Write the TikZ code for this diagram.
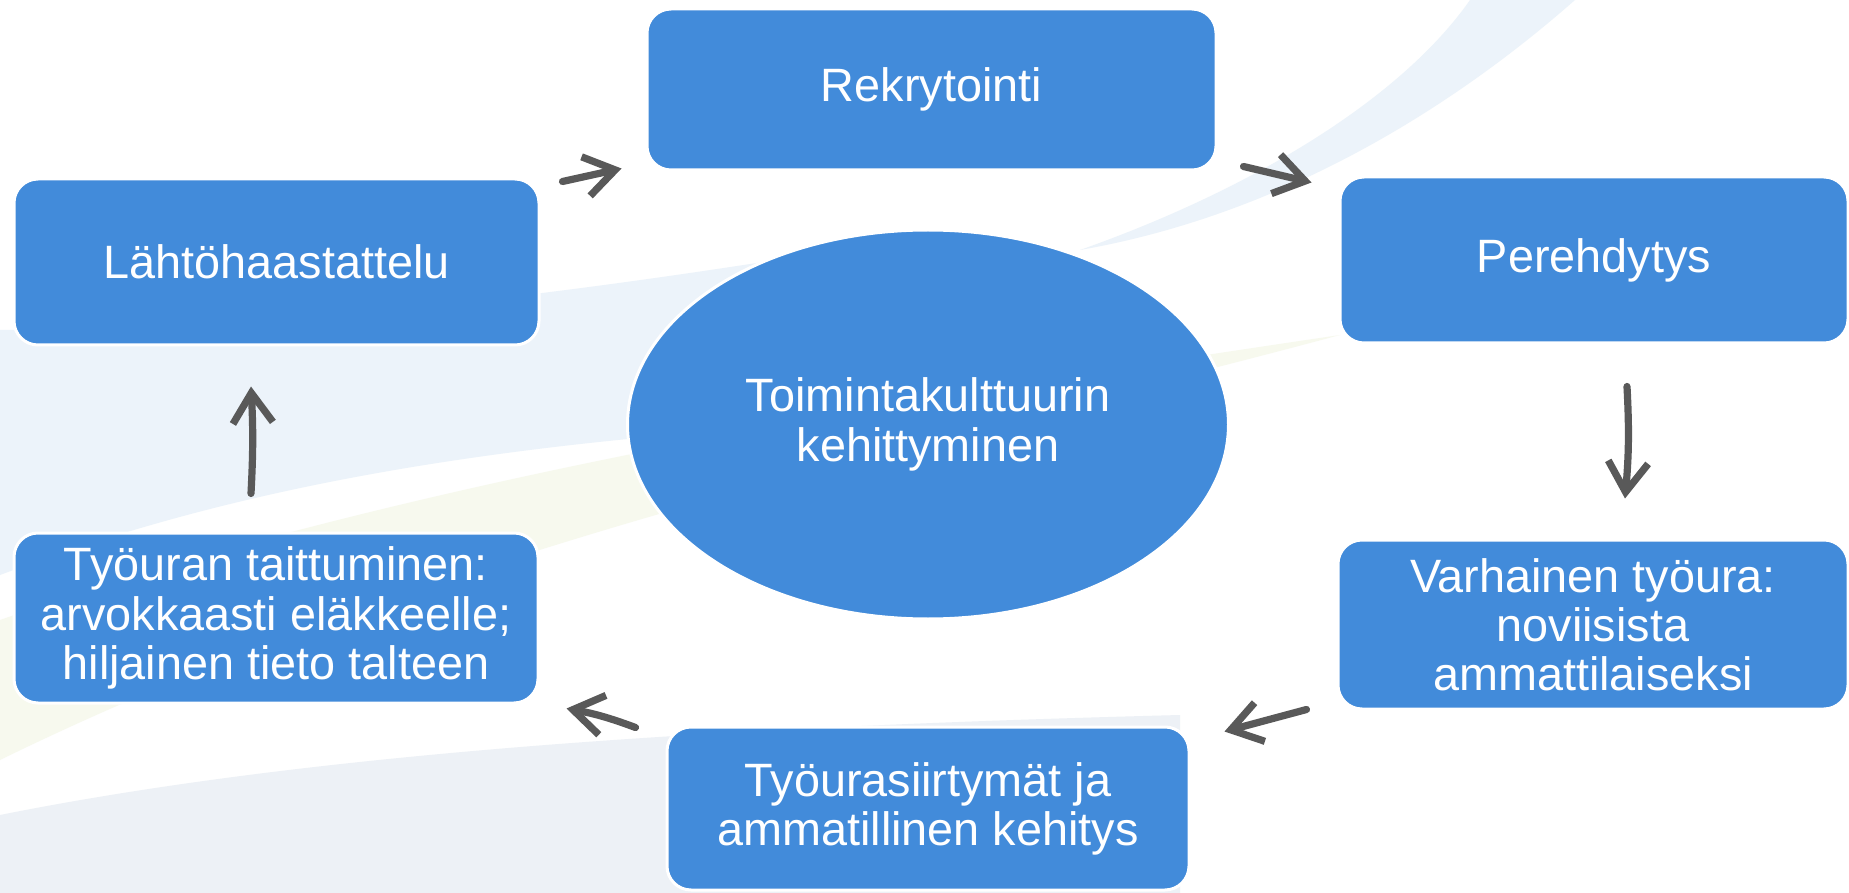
\documentclass[tikz,border=0pt]{standalone}
\usepackage{fontspec}
\setmainfont{Liberation Sans}
\usetikzlibrary{shapes.geometric,arrows.meta}

\definecolor{cycblue}{RGB}{66,139,218}
\definecolor{cycarrow}{RGB}{89,89,89}
\definecolor{swblue}{RGB}{236,243,250}
\definecolor{swgrey}{RGB}{237,241,246}
\definecolor{swgreen}{RGB}{247,249,238}

\tikzset{every picture/.style={line width=0.75pt}}
\tikzset{
  phase/.style={rectangle, rounded corners=12pt, fill=cycblue, draw=white, line width=1.5pt,
    text=white, align=center, inner sep=2pt, font=\fontsize{23.4pt}{24.6pt}\selectfont},
  hub/.style={ellipse, fill=cycblue, draw=white, line width=1.5pt, inner sep=0pt,
    text=white, align=center, font=\fontsize{23.4pt}{24.6pt}\selectfont},
  cyclearrow/.style={draw=cycarrow, line width=3.6pt, line cap=round, line join=round,
    -{Straight Barb[length=15pt,width=20pt]}}
}

\begin{document}
\begin{tikzpicture}[x=0.5pt,y=0.5pt,yscale=-1,xscale=1]
\useasboundingbox (0,0) rectangle (1849,893);
\fill[white] (0,0) rectangle (1849,893);

%Background swooshes
\fill[swblue] (0,330) .. controls (300,330) and (600,290) .. (900,240) -- (900,420) .. controls (450,440) and (200,500) .. (0,575) -- cycle;
\fill[swblue] (1470,0) .. controls (1400,100) and (1250,190) .. (1080,250) .. controls (1280,215) and (1450,110) .. (1575,0) -- cycle;
\fill[swgreen] (0,620) .. controls (400,480) and (900,400) .. (1340,335) .. controls (950,440) and (450,540) .. (0,760) -- cycle;
\fill[swgrey] (0,893) -- (0,815) .. controls (350,745) and (800,725) .. (1180,715) -- (1180,893) -- cycle;

% Phase boxes
\node[phase, minimum width=284.5pt, minimum height=80.5pt] (rekry) at (931.5,89.5) {Rekrytointi};
\node[phase, minimum width=254pt, minimum height=83pt] (pere) at (1594,260) {Perehdytys};
\node[phase, minimum width=255pt, minimum height=84.5pt] (varh) at (1593,624.5) {Varhainen työura:\\ noviisista\\ ammattilaiseksi};
\node[phase, minimum width=261pt, minimum height=81.5pt] (siirt) at (928,808.5) {Työurasiirtymät ja\\ ammatillinen kehitys};
\node[phase, minimum width=262pt, minimum height=85pt] (taitt) at (276,618) {Työuran taittuminen:\\ arvokkaasti eläkkeelle;\\ hiljainen tieto talteen};
\node[phase, minimum width=262.5pt, minimum height=83pt] (lahto) at (276.5,262) {Lähtöhaastattelu};

% Centre
\node[hub, minimum width=300.5pt, minimum height=194.5pt] (kult) at (928,424.5) {Toimintakulttuurin\\ kehittyminen};

% Cycle arrows
\draw[cyclearrow] ([shift={(22,4)}]lahto.north east) -- ([shift={(-24,-3)}]rekry.south west);
\draw[cyclearrow] ([shift={(26,-5)}]rekry.south east) -- ([shift={(-27,7)}]pere.north west);
\draw[cyclearrow] ([shift={(33,42)}]pere.south) to[bend right=4] ([shift={(32,-40)}]varh.north);
\draw[cyclearrow] ([shift={(-30,-1)}]varh.south west) -- ([shift={(34,6)}]siirt.north east);
\draw[cyclearrow] ([shift={(-30,2)}]siirt.north west) to[bend left=5] ([shift={(27,4)}]taitt.south east);
\draw[cyclearrow] ([shift={(-25,-38)}]taitt.north) to[bend left=3] ([shift={(-25.5,40)}]lahto.south);

\end{tikzpicture}
\end{document}
